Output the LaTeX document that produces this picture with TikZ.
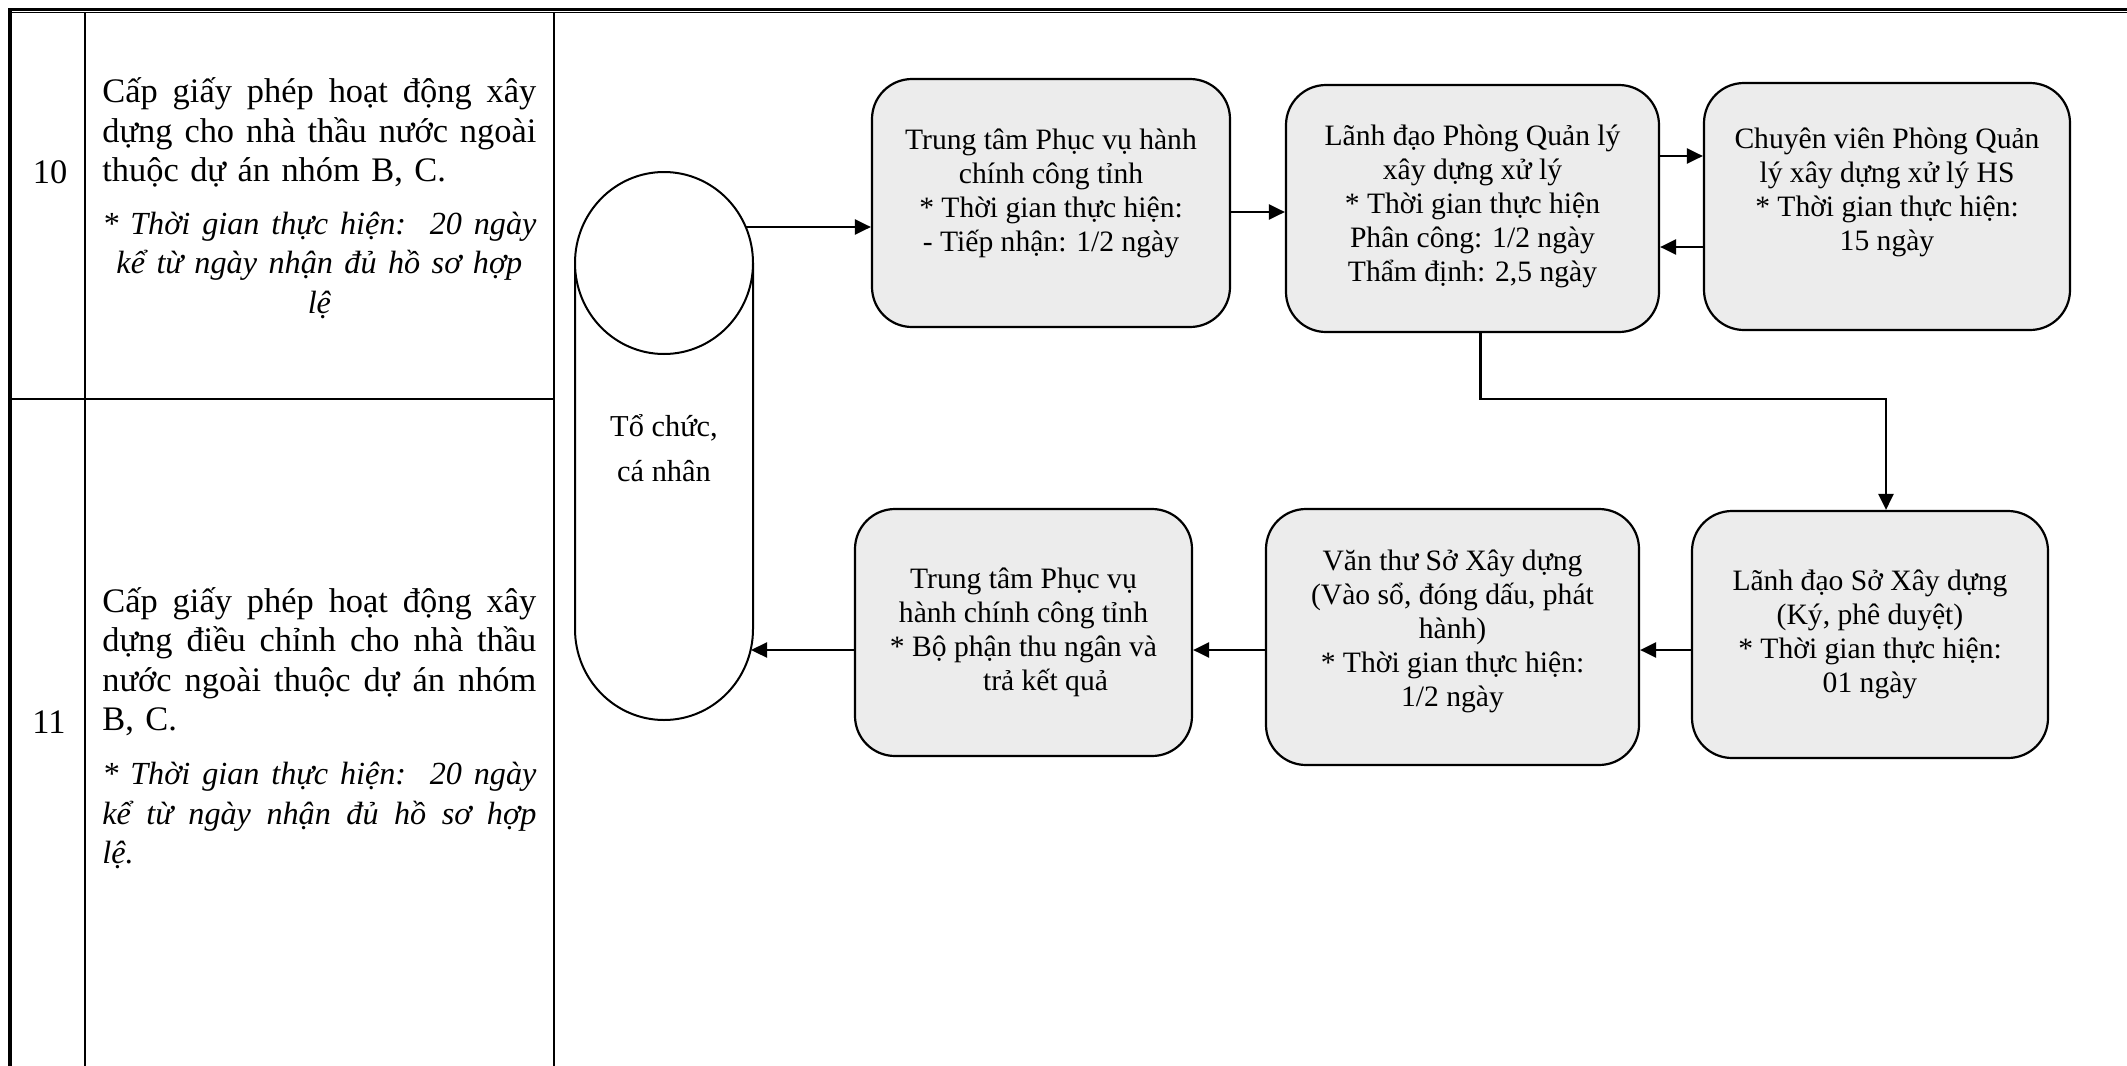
\documentclass[tikz,border=0pt]{standalone}
\usepackage{fontspec}
\setmainfont{Liberation Serif}
\usetikzlibrary{arrows.meta,calc}
\definecolor{boxfill}{RGB}{236,236,236}
\def\colw{217pt}
\newcommand{\itx}{\itshape\fontsize{16.1}{19.8}\selectfont}
\newcommand{\jline}[1]{\makebox[\colw][s]{\spaceskip=0pt\xspaceskip=0pt\relax #1}}
\begin{document}
\begin{tikzpicture}[x=0.5pt,y=-0.5pt,
  proc/.style={draw=black, line width=1.1pt, fill=boxfill, rounded corners=20pt, inner sep=0pt},
  boxtext/.style={align=center, inner sep=0pt, font=\fontsize{14.8}{17}\selectfont},
  arr/.style={line width=1.15pt, -{Triangle[length=8pt,width=7.5pt]}},
  tline/.style={line width=1pt},
  celltext/.style={text width=\colw, align=left, inner sep=0pt, font=\fontsize{17.2}{19.8}\selectfont, anchor=north west},
  num/.style={font=\fontsize{17.2}{19.8}\selectfont, inner sep=0pt}]
\useasboundingbox (0,0) rectangle (2127,1066);

% ---------- table ----------
\draw[line width=1.3pt] (8,9.2) -- (2127,9.2);
\draw[line width=0.75pt] (8,12.4) -- (2127,12.4);
\draw[line width=2.2pt] (10,9) -- (10,1066);
\draw[tline] (85,12) -- (85,1066);
\draw[tline] (554,12) -- (554,1066);
\draw[tline] (10,399) -- (554,399);

\node[num] (n10) at (50,172) {10};
\node[num] (n11) at (49,722) {11};

\node[celltext] (t10) at (102,74.4) {\strut\jline{Cấp giấy phép hoạt động xây}\\
\jline{dựng cho nhà thầu nước ngoài}\\
thuộc dự án nhóm B, C.\par\vspace{6.5pt}
{\itx\centering \jline{* Thời gian thực hiện:\ \ 20 ngày}\\ kể từ ngày nhận đủ hồ sơ hợp\\ lệ\par}};

\node[celltext] (t11) at (102,584) {\strut\jline{Cấp giấy phép hoạt động xây}\\
\jline{dựng điều chỉnh cho nhà thầu}\\
\jline{nước ngoài thuộc dự án nhóm}\\
B, C.\par\vspace{7pt}
{\itx \jline{* Thời gian thực hiện:\ \ 20 ngày}\\ \jline{kể từ ngày nhận đủ hồ sơ hợp}\\ lệ.\par}};

% ---------- cylinder ----------
\draw[line width=1pt] (575,263) -- (575,629) arc[start angle=180, end angle=360, x radius=44.5pt, y radius=45.5pt] -- (753,263);
\draw[line width=1pt, fill=white] (664,263) ellipse [x radius=44.5pt, y radius=45.5pt];
\node[minimum width=89pt, minimum height=274pt, inner sep=0pt, align=center, font=\fontsize{15.2}{22.5}\selectfont] (cyl) at (664,448) {Tổ chức,\\cá nhân};

% ---------- boxes ----------
\node[proc, minimum width=179pt, minimum height=124pt] (A) at (1051,203) {};
\node[proc, minimum width=186.5pt, minimum height=123.5pt] (B) at (1472.5,208.5) {};
\node[proc, minimum width=183pt, minimum height=123.5pt] (C) at (1887,206.5) {};
\node[proc, minimum width=178pt, minimum height=123.5pt] (D) at (1870,634.5) {};
\node[proc, minimum width=186.5pt, minimum height=128pt] (E) at (1452.5,637) {};
\node[proc, minimum width=168.5pt, minimum height=123.5pt] (F) at (1023.5,632.5) {};

\node[boxtext] (At) at ([yshift=5pt]A.center) {Trung tâm Phục vụ hành\\chính công tỉnh\\* Thời gian thực hiện:\\- Tiếp nhận: 1/2 ngày};
\node[boxtext] (Bt) at ([yshift=1pt]B.center) {Lãnh đạo Phòng Quản lý\\xây dựng xử lý\\* Thời gian thực hiện\\Phân công: 1/2 ngày\\Thẩm định: 2,5 ngày};
\node[boxtext] (Ct) at ([yshift=7pt]C.center) {Chuyên viên Phòng Quản\\lý xây dựng xử lý HS\\* Thời gian thực hiện:\\15 ngày};
\node[boxtext] (Dt) at (D.center) {Lãnh đạo Sở Xây dựng\\(Ký, phê duyệt)\\* Thời gian thực hiện:\\01 ngày};
\node[boxtext] (Et) at ([yshift=3pt]E.center) {Văn thư Sở Xây dựng\\(Vào sổ, đóng dấu, phát\\hành)\\* Thời gian thực hiện:\\1/2 ngày};
\node[boxtext] (Ft) at (F.center) {Trung tâm Phục vụ\\hành chính công tỉnh\\* Bộ phận thu ngân và\\\hspace*{22pt}trả kết quả};

% ---------- connectors ----------
\coordinate (cylout) at (746,227);
\coordinate (cylin) at (751,650);
\coordinate (yab) at (0,212);
\coordinate (ybc) at (0,156);
\coordinate (ycb) at (0,247);
\coordinate (ylow) at (0,650);
\coordinate (ymid) at (0,399);

\draw[arr] (cylout) -- (cylout -| A.west);
\draw[arr] (A.east |- yab) -- (B.west |- yab);
\draw[arr] (B.east |- ybc) -- (C.west |- ybc);
\draw[arr] (C.west |- ycb) -- (B.east |- ycb);
\draw[arr] ([xshift=4pt]B.south) -- ([xshift=4pt]B.south |- ymid) -| ([xshift=8pt]D.north);
\draw[arr] (D.west |- ylow) -- (E.east |- ylow);
\draw[arr] (E.west |- ylow) -- (F.east |- ylow);
\draw[arr] (F.west |- ylow) -- (cylin);
\end{tikzpicture}
\end{document}
